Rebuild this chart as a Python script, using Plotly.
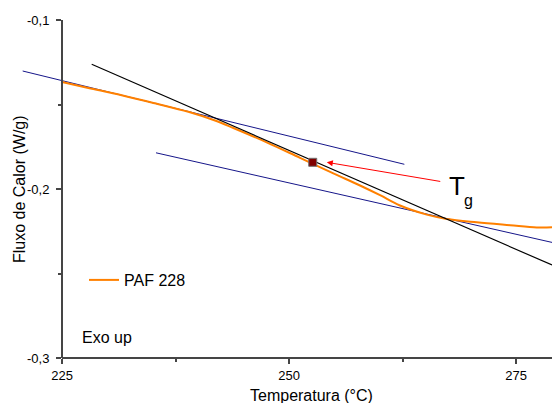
import plotly.graph_objects as go

# --- data ---
temp = [225.0, 227.90, 231.57, 235.24, 238.91, 241.85, 243.87, 247.54, 251.21,
        254.88, 257.82, 260.02, 262.22, 265.17, 267.37, 270.67, 274.34, 277.28, 278.96]
flux = [-0.13669, -0.14018, -0.14450, -0.14929, -0.15432, -0.15947, -0.16391,
        -0.17237, -0.18154, -0.19071, -0.19793, -0.20367, -0.20976, -0.21515,
        -0.21769, -0.21970, -0.22142, -0.22272, -0.22266]
series_name = "PAF 228"

tangent_t = [228.27, 278.96]          # steep tangent (black)
tangent_y = [-0.12621, -0.24497]
base_upper_t = [220.67, 262.70]       # upper baseline (blue)
base_upper_y = [-0.13018, -0.18538]
base_lower_t = [235.35, 278.96]       # lower baseline (blue)
base_lower_y = [-0.17858, -0.23160]

tg_t = [252.61]                       # glass transition point
tg_y = [-0.18420]
arrow_tail = (266.82, -0.19568)

x_ticks = [225, 250, 275]
x_ticktext = ["225", "250", "275"]
y_ticks = [-0.3, -0.2, -0.1]
y_ticktext = ["-0,3", "-0,2", "-0,1"]
x_range = [218.17, 278.96]
y_range = [-0.3, -0.1]

FONT = "Liberation Sans, Arial, sans-serif"
AXC = "#454545"

fig = go.Figure()
fig.add_trace(go.Scatter(x=base_upper_t, y=base_upper_y, mode="lines",
                         line=dict(color="#16168a", width=1), showlegend=False, hoverinfo="skip"))
fig.add_trace(go.Scatter(x=base_lower_t, y=base_lower_y, mode="lines",
                         line=dict(color="#16168a", width=1), showlegend=False, hoverinfo="skip"))
fig.add_trace(go.Scatter(x=temp, y=flux, mode="lines", name=series_name,
                         line=dict(color="#ff8000", width=2, shape="spline", smoothing=1.0)))
fig.add_trace(go.Scatter(x=tangent_t, y=tangent_y, mode="lines",
                         line=dict(color="#000000", width=1.2), showlegend=False, hoverinfo="skip"))
fig.add_trace(go.Scatter(x=tg_t, y=tg_y, mode="markers", showlegend=False,
                         marker=dict(symbol="square", size=8, color="#800000",
                                     line=dict(color="#707070", width=1))))

# x axis baseline starting at the y axis
fig.add_shape(type="line", xref="x", yref="paper", x0=x_ticks[0], x1=x_range[1], y0=0, y1=0,
              line=dict(color=AXC, width=2))

fig.add_annotation(x=tg_t[0] + 1.55, y=tg_y[0], ax=arrow_tail[0], ay=arrow_tail[1],
                   xref="x", yref="y", axref="x", ayref="y", text="", showarrow=True,
                   arrowhead=2, arrowsize=1.2, arrowwidth=1, arrowcolor="#ff0000", standoff=0)
fig.add_annotation(x=267.35, y=-0.19822, xref="x", yref="y", text="T", showarrow=False,
                   xanchor="left", yanchor="middle", font=dict(family=FONT, size=26, color="#000"))
fig.add_annotation(x=269.1, y=-0.20704, xref="x", yref="y", text="g", showarrow=False,
                   xanchor="left", yanchor="middle", font=dict(family=FONT, size=16, color="#000"))
fig.add_annotation(x=227.0, y=-0.2876, xref="x", yref="y", text="Exo up", showarrow=False,
                   xanchor="left", yanchor="middle", font=dict(family=FONT, size=16, color="#000"))
# axis titles
fig.add_annotation(x=19 / 552, y=0.5, xref="paper", yref="paper", text="Fluxo de Calor (W/g)",
                   textangle=-90, showarrow=False, xanchor="center", yanchor="middle",
                   font=dict(family=FONT, size=16, color="#000"))
fig.add_annotation(x=311.5 / 552, y=-0.1107, xref="paper", yref="paper", text="Temperatura (°C)",
                   showarrow=False, xanchor="center", yanchor="middle",
                   font=dict(family=FONT, size=16, color="#000"))

fig.update_layout(
    width=552, height=403,
    margin=dict(l=0, r=0, t=20, b=45),
    paper_bgcolor="white", plot_bgcolor="white",
    font=dict(family=FONT, size=13, color="#000"),
    showlegend=True,
    legend=dict(x=84 / 552, y=(358 - 280) / 338, xanchor="left", yanchor="middle",
                bgcolor="rgba(0,0,0,0)", borderwidth=0, font=dict(size=16)),
    xaxis=dict(range=x_range, tickvals=x_ticks, ticktext=x_ticktext, showline=False,
               showgrid=False, zeroline=False,
               ticks="outside", ticklen=5, tickwidth=1.5, tickcolor=AXC,
               minor=dict(tickvals=[237.5, 262.5], ticks="outside", ticklen=3, tickcolor=AXC, tickwidth=1.5)),
    yaxis=dict(range=y_range, tickvals=y_ticks, ticktext=y_ticktext, anchor="free", position=62 / 552,
               showline=True, linecolor=AXC, linewidth=2, showgrid=False, zeroline=False,
               ticks="outside", ticklen=5, tickwidth=1.5, tickcolor=AXC, ticklabelstandoff=4,
               minor=dict(tickvals=[-0.25, -0.15], ticks="outside", ticklen=3, tickcolor=AXC, tickwidth=1.5)),
)

fig.write_html("out.html")
